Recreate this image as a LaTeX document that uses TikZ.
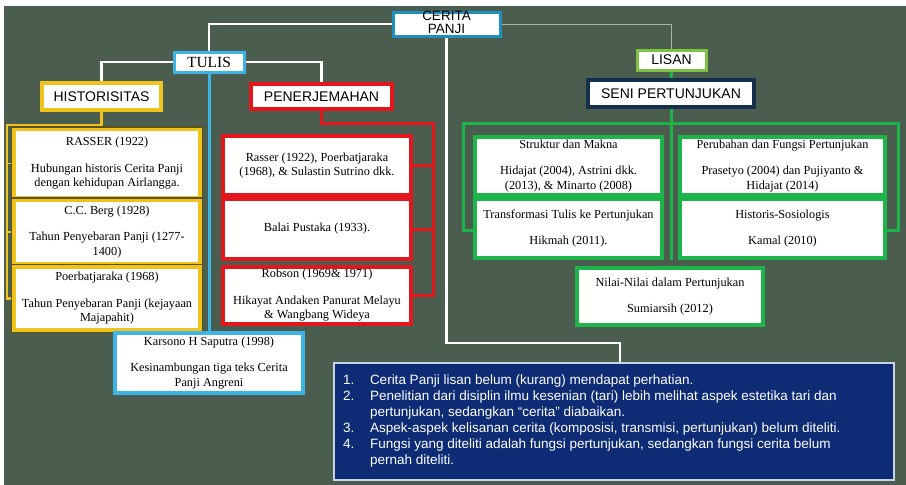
\documentclass[tikz,border=0pt]{standalone}
\usepackage{fontspec}
\usetikzlibrary{backgrounds}
\setmainfont{Liberation Serif}
\setsansfont{Liberation Sans}
\definecolor{bg}{HTML}{4A5D4E}
\definecolor{goldc}{HTML}{F0C21C}
\definecolor{golddark}{HTML}{5C5218}
\definecolor{redc}{HTML}{E4161B}
\definecolor{ceritab}{HTML}{1E8FBF}
\definecolor{lightb}{HTML}{3CB4E5}
\definecolor{limec}{HTML}{7DC242}
\definecolor{greenc}{HTML}{1DB54A}
\definecolor{senib}{HTML}{15304A}
\definecolor{navyc}{HTML}{0D2C75}
\definecolor{noteb}{HTML}{C9D3E3}
\definecolor{thinc}{HTML}{A8B4A8}
\newcommand\bodyfont{\fontsize{12.3}{14.5}\selectfont}
\newcommand\headfont{\sffamily\fontsize{14}{13}\selectfont}
\begin{document}
\begin{tikzpicture}[x=1pt,y=-1pt,
  box/.style={rectangle, fill=white, inner sep=1pt, align=center, font=\bodyfont},
  headbox/.style={box, font=\headfont},
  goldbox/.style={box, draw=goldc, line width=3.5, minimum width=186, preaction={draw=golddark, line width=6.5}},
  redbox/.style={box, draw=redc, line width=3.5, minimum width=188},
  greenbox/.style={box, draw=greenc, line width=3.5},
  wline/.style={draw=white, line width=2.5},
  thinline/.style={draw=thinc, line width=1},
  bline/.style={draw=lightb, line width=3},
  goldline/.style={draw=goldc, line width=2.5},
  redline/.style={draw=redc, line width=3},
  greenline/.style={draw=greenc, line width=3}]
\useasboundingbox (0,0) rectangle (906,485);

% nodes
\node[box, draw=ceritab, line width=3, minimum width=107, minimum height=24] (cerita) at (446.5,24) {};
\node[inner sep=0, align=center, font=\sffamily\fontsize{13.5}{13}\selectfont] (ceritalbl) at (446.5,22) {CERITA\\PANJI};
\node[box, draw=lightb, line width=3, minimum width=70, minimum height=20, font=\fontsize{15.5}{15}\selectfont] (tulis) at (209,62) {TULIS};
\node[headbox, draw=goldc, line width=4, minimum width=119, minimum height=27] (hist) at (101.5,96.5) {HISTORISITAS};
\node[headbox, draw=redc, line width=3.5, minimum width=141, minimum height=25] (pener) at (321.5,96.5) {PENERJEMAHAN};
\node[headbox, draw=limec, line width=3, minimum width=69, minimum height=20] (lisan) at (671.5,60) {LISAN};
\node[headbox, draw=senib, line width=4, minimum width=166, minimum height=27] (seni) at (671,93.5) {SENI PERTUNJUKAN};

\node[goldbox, minimum height=68] (g1) at (107,163.5) {RASSER (1922)\\[12pt]Hubungan historis Cerita Panji\\dengan kehidupan Airlangga.};
\node[goldbox, minimum height=63] (g2) at (107,232) {C.C. Berg (1928)\\[12pt]Tahun Penyebaran Panji (1277-\\1400)};
\node[goldbox, minimum height=63] (g3) at (107,298.5) {Poerbatjaraka (1968)\\[12pt]Tahun Penyebaran Panji (kejayaan\\Majapahit)};

\node[redbox, minimum height=59] (r1) at (317,165.5) {Rasser (1922), Poerbatjaraka\\(1968), \& Sulastin Sutrino dkk.};
\node[redbox, minimum height=60] (r2) at (317,229) {Balai Pustaka (1933).};
\node[redbox, minimum height=57] (r3) at (317,295.5) {Robson (1969\& 1971)\\[12pt]Hikayat Andaken Panurat Melayu\\\& Wangbang Wideya};

\node[box, draw=lightb, line width=3.5, minimum width=188, minimum height=60] (kars) at (209,363) {Karsono H Saputra (1998)\\[12pt]Kesinambungan tiga teks Cerita\\Panji Angreni};

\node[greenbox, minimum width=187, minimum height=58] (gtl) at (568.5,166) {Struktur dan Makna\\[12pt]Hidajat (2004), Astrini dkk.\\(2013), \& Minarto (2008)};
\node[greenbox, minimum width=205, minimum height=58] (gtr) at (782.5,166) {Perubahan dan Fungsi Pertunjukan\\[12pt]Prasetyo (2004) dan Pujiyanto \&\\Hidajat (2014)};
\node[greenbox, minimum width=187, minimum height=59] (gbl) at (568.5,228.5) {Transformasi Tulis ke Pertunjukan\\[12pt]Hikmah (2011).};
\node[greenbox, minimum width=205, minimum height=59] (gbr) at (782.5,228.5) {Historis-Sosiologis\\[12pt]Kamal (2010)};
\node[greenbox, minimum width=186, minimum height=57] (gc) at (670,296.5) {Nilai-Nilai dalam Pertunjukan\\[12pt]Sumiarsih (2012)};

\node[rectangle, fill=navyc, draw=noteb, line width=2, minimum width=560, minimum height=117, inner sep=0, text=white, align=left,
  font=\sffamily\fontsize{13.5}{16}\selectfont] (note) at (614,421.5) {\parbox{542pt}{\raggedright
\hangindent=27pt\hangafter=1\makebox[27pt][l]{1.}Cerita Panji lisan belum (kurang) mendapat perhatian.\par
\hangindent=27pt\hangafter=1\makebox[27pt][l]{2.}Penelitian dari disiplin ilmu kesenian (tari) lebih melihat aspek estetika tari dan\newline pertunjukan, sedangkan “cerita” diabaikan.\par
\hangindent=27pt\hangafter=1\makebox[27pt][l]{3.}Aspek-aspek kelisanan cerita (komposisi, transmisi, pertunjukan) belum diteliti.\par
\hangindent=27pt\hangafter=1\makebox[27pt][l]{4.}Fungsi yang diteliti adalah fungsi pertunjukan, sedangkan fungsi cerita belum\newline pernah diteliti.\par}};

% connectors
\coordinate (k1) at (620,343);
\coordinate (gt) at (7,125);
\coordinate (rt) at (433,123);
\coordinate (gL) at (463,123);
\coordinate (gR) at (898,123);
\coordinate (gLb) at (463,230);
\coordinate (gRb) at (898,230);
\begin{scope}[on background layer]
\fill[white] (0,0) rectangle (906,485);
\fill[bg] (4,6) rectangle (906,485);
\draw[wline] (cerita.west) -| (tulis.north);
\draw[thinline] (cerita.east) -| (lisan.north);
\draw[wline] (cerita.south) |- (k1) -- (k1 |- note.north);
\draw[wline] (tulis.west) -| (hist.north);
\draw[wline] (tulis.east) -| (pener.north);
\draw[bline] (tulis.south) -- (kars.north);
\draw[goldline] (hist.south) |- (gt) -- (gt |- g3.west) -- (g3.west);
\draw[goldline, line width=1.5] (gt |- g1.west) -- (g1.west);
\draw[goldline, line width=1.5] (gt |- g2.west) -- (g2.west);
\draw[redline] (pener.south) |- (rt) -- (rt |- r3.east) -- (r3.east);
\draw[redline] (rt |- r1.east) -- (r1.east);
\draw[redline] (rt |- r2.east) -- (r2.east);
\draw[greenline] (lisan.south) -- (seni.north);
\draw[greenline] (seni.south) -- (seni.south |- gbl.south);
\draw[greenline] (gLb -| gbl.west) -- (gLb) -- (gL) -- (gR) -- (gRb) -- (gRb -| gbr.east);
\end{scope}
\end{tikzpicture}
\end{document}
